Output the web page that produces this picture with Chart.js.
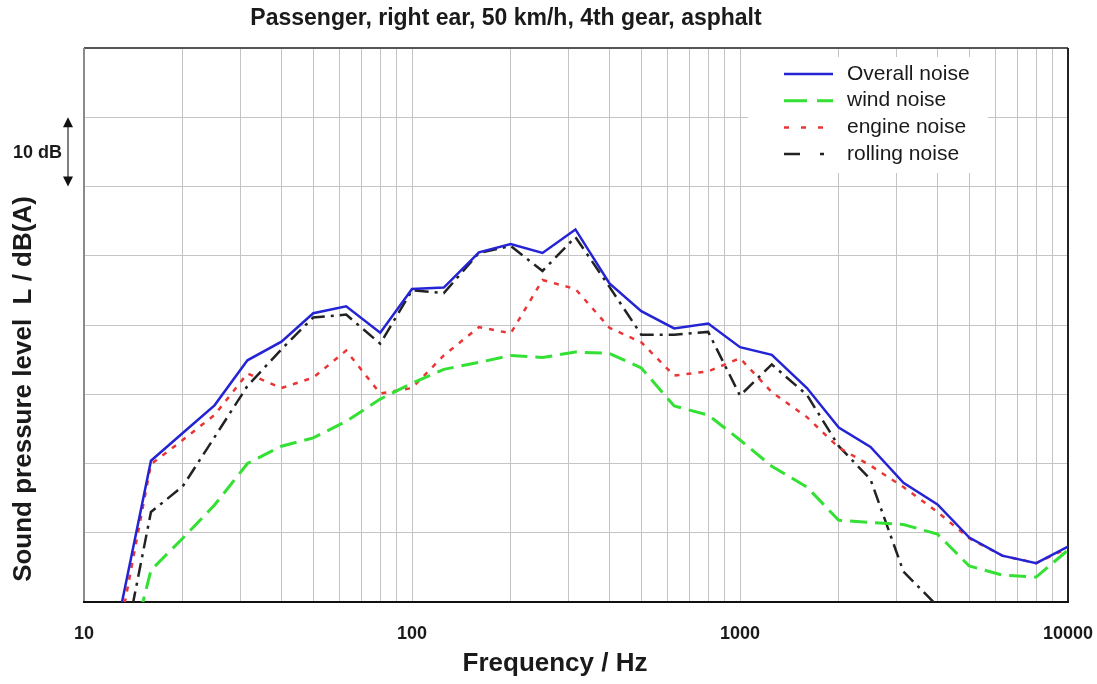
<!DOCTYPE html>
<html>
<head>
<meta charset="utf-8">
<script src="https://cdn.jsdelivr.net/npm/chart.js@4.4.1/dist/chart.umd.min.js"></script>
<style>
  html, body { margin: 0; padding: 0; background: #fff; }
</style>
</head>
<body>
<canvas id="chart" width="1097" height="684"></canvas>
<script>
// Third-octave band centre frequencies (Hz)
const freqs = [12.5, 16, 20, 25, 31.5, 40, 50, 63, 80, 100, 125, 160, 200, 250, 315,
               400, 500, 630, 800, 1000, 1250, 1600, 2000, 2500, 3150, 4000, 5000, 6300, 8000, 10000];

// Levels in dB(A) per band
const overallNoise = [15.6, 40.4, 44.4, 48.4, 54.9, 57.6, 61.7, 62.7, 58.9, 65.2, 65.4, 70.5, 71.7, 70.4, 73.8,
                      66.0, 62.0, 59.5, 60.2, 56.8, 55.7, 50.9, 45.2, 42.4, 37.2, 34.1, 29.3, 26.7, 25.6, 28.0];
const windNoise    = [4.4, 24.6, 29.2, 34.0, 40.0, 42.5, 43.7, 46.1, 49.3, 51.6, 53.6, 54.6, 55.6, 55.3, 56.1,
                      55.9, 53.8, 48.3, 47.0, 43.4, 39.6, 36.6, 31.8, 31.5, 31.2, 29.8, 25.2, 23.9, 23.6, 27.5];
const engineNoise  = [13.0, 39.9, 43.4, 47.0, 53.0, 50.9, 52.4, 56.3, 50.1, 50.9, 55.6, 59.7, 58.8, 66.5, 65.2,
                      59.6, 57.5, 52.7, 53.3, 55.2, 50.3, 46.7, 42.3, 39.7, 36.6, 33.0, 29.2, 26.7, 25.6, 27.8];
const rollingNoise = [7.2, 33.0, 36.7, 43.8, 51.2, 56.5, 61.1, 61.5, 57.3, 65.0, 64.6, 70.4, 71.4, 67.8, 72.7,
                      65.5, 58.6, 58.6, 59.0, 49.8, 54.3, 49.9, 42.5, 37.7, 24.4, 19.4, null, null, null, null];

// Grid lines on the log axis, and the ones that carry a label
const gridFreqs = [10, 20, 30, 40, 50, 60, 70, 80, 90,
                   100, 200, 300, 400, 500, 600, 700, 800, 900,
                   1000, 2000, 3000, 4000, 5000, 6000, 7000, 8000, 9000, 10000];
const freqLabels = [10, 100, 1000, 10000];

const FONT = "'Liberation Sans', Arial, sans-serif";

const toPoints = vals => freqs.map((f, i) => ({ x: f, y: vals[i] }));

// Frame, titles, the 10 dB marker and the legend box
const decorations = {
  id: 'decorations',
  beforeDatasetsDraw(chart) {
    const { ctx, chartArea: a } = chart;
    ctx.save();
    ctx.lineWidth = 2;
    const seg = (x1, y1, x2, y2, c) => {
      ctx.strokeStyle = c;
      ctx.beginPath(); ctx.moveTo(x1, y1); ctx.lineTo(x2, y2); ctx.stroke();
    };
    seg(a.left, a.top, a.right, a.top, '#555');
    seg(a.left, a.top, a.left, a.bottom, '#8a8a8a');
    seg(a.right, a.top, a.right, a.bottom, '#222');
    seg(a.left - 1, a.bottom, a.right + 1, a.bottom, '#111');
    ctx.restore();
  },
  afterDraw(chart) {
    const { ctx } = chart;
    ctx.save();
    ctx.fillStyle = '#1a1a1a';

    // title
    ctx.font = 'bold 23px ' + FONT;
    ctx.textAlign = 'center';
    ctx.textBaseline = 'middle';
    ctx.fillText('Passenger, right ear, 50 km/h, 4th gear, asphalt', 506, 19);

    // x axis title
    ctx.font = 'bold 26px ' + FONT;
    ctx.fillText('Frequency / Hz', 555, 664);

    // y axis title
    ctx.save();
    ctx.translate(24, 389);
    ctx.rotate(-Math.PI / 2);
    ctx.font = 'bold 26px ' + FONT;
    ctx.fillText('Sound pressure level  L / dB(A)', 0, 0);
    ctx.restore();

    // 10 dB scale marker
    const y = chart.scales.y;
    const yTop = y.getPixelForValue(90), yBot = y.getPixelForValue(80);
    const ax = 68;
    ctx.strokeStyle = '#555';
    ctx.lineWidth = 1.5;
    ctx.beginPath(); ctx.moveTo(ax, yTop + 8); ctx.lineTo(ax, yBot - 8); ctx.stroke();
    ctx.fillStyle = '#111';
    ctx.beginPath(); ctx.moveTo(ax, yTop); ctx.lineTo(ax - 5, yTop + 10); ctx.lineTo(ax + 5, yTop + 10); ctx.fill();
    ctx.beginPath(); ctx.moveTo(ax, yBot); ctx.lineTo(ax - 5, yBot - 10); ctx.lineTo(ax + 5, yBot - 10); ctx.fill();
    ctx.fillStyle = '#1a1a1a';
    ctx.font = 'bold 18px ' + FONT;
    ctx.textAlign = 'right';
    ctx.fillText('10 dB', 62, (yTop + yBot) / 2 + 1);

    // legend
    ctx.fillStyle = '#fff';
    ctx.fillRect(748, 57, 240, 116);
    ctx.font = '21px ' + FONT;
    ctx.textAlign = 'left';
    chart.data.datasets.forEach((ds, i) => {
      const ly = 74 + i * 26.7;
      ctx.strokeStyle = ds.borderColor;
      ctx.lineWidth = ds.borderWidth;
      ctx.setLineDash(ds.legendDash || []);
      ctx.beginPath(); ctx.moveTo(784, ly); ctx.lineTo(833, ly); ctx.stroke();
      ctx.setLineDash([]);
      ctx.fillStyle = '#1a1a1a';
      ctx.fillText(ds.label, 847, ly);
    });
    ctx.restore();
  }
};

new Chart(document.getElementById('chart'), {
  type: 'line',
  data: {
    datasets: [
      { label: 'Overall noise', data: toPoints(overallNoise), borderColor: '#2424d4',
        borderWidth: 2.5, legendDash: [] },
      { label: 'wind noise', data: toPoints(windNoise), borderColor: '#33e033',
        borderWidth: 3, borderDash: [17, 8], legendDash: [23, 10] },
      { label: 'engine noise', data: toPoints(engineNoise), borderColor: '#ea3535',
        borderWidth: 2.5, borderDash: [5, 7], legendDash: [5, 12] },
      { label: 'rolling noise', data: toPoints(rollingNoise), borderColor: '#222',
        borderWidth: 2.5, borderDash: [14, 6, 3, 6], legendDash: [16, 20, 4, 20] },
    ],
  },
  options: {
    responsive: false,
    animation: false,
    devicePixelRatio: 1,
    elements: { point: { radius: 0 }, line: { tension: 0, fill: false } },
    layout: { padding: { left: 84, right: 29, top: 48, bottom: 0 } },
    plugins: {
      legend: { display: false },
      title: { display: false },
      tooltip: { enabled: false },
    },
    scales: {
      x: {
        type: 'logarithmic',
        min: 10,
        max: 10000,
        afterBuildTicks: scale => { scale.ticks = gridFreqs.map(v => ({ value: v })); },
        afterFit: scale => {
          scale.height = 82;
          scale.paddingLeft = 0;
          scale.paddingRight = 0;
        },
        grid: { color: '#c4c4c4', lineWidth: 1, drawTicks: false },
        border: { display: false },
        ticks: {
          autoSkip: false,
          maxRotation: 0,
          padding: 21,
          color: '#1a1a1a',
          font: { family: FONT, size: 18, weight: 'bold' },
          callback: v => freqLabels.includes(v) ? String(v) : '',
        },
      },
      y: {
        min: 20,
        max: 100,
        ticks: { display: false, stepSize: 10 },
        grid: { color: '#c4c4c4', lineWidth: 1, drawTicks: false },
        border: { display: false },
      },
    },
  },
  plugins: [decorations],
});
</script>
</body>
</html>
